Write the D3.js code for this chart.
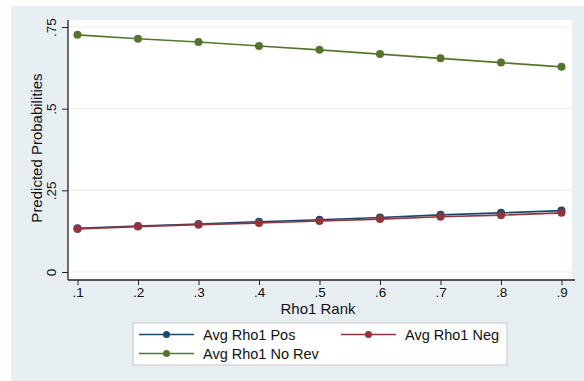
<!DOCTYPE html>
<head>
	<script src="https://d3js.org/d3.v7.min.js"></script>
	<style>
		body { margin: 0; background: #fff; }
		text { font-family: "Liberation Sans", Arial, sans-serif; fill: #111; }
		.tick text { font-size: 13.5px; }
		.axis-title { font-size: 15px; }
		.legend text { font-size: 14.5px; }
	</style>
</head>
<body>
	<script>
		var ranks = [0.1, 0.2, 0.3, 0.4, 0.5, 0.6, 0.7, 0.8, 0.9];
		var rankLabels = [".1", ".2", ".3", ".4", ".5", ".6", ".7", ".8", ".9"];
		var yTicks = [0, 0.25, 0.5, 0.75];
		var yTickLabels = ["0", ".25", ".5", ".75"];
		var avgPos = [0.134, 0.141, 0.147, 0.154, 0.160, 0.167, 0.175, 0.181, 0.188];
		var avgNeg = [0.132, 0.139, 0.145, 0.150, 0.156, 0.162, 0.169, 0.174, 0.181];
		var avgNoRev = [0.726, 0.714, 0.704, 0.692, 0.680, 0.667, 0.654, 0.641, 0.628];
		var seriesNames = ["Avg Rho1 Pos", "Avg Rho1 Neg", "Avg Rho1 No Rev"];
		var seriesColors = ["#1a476f", "#90353b", "#55752f"];

		var width = 584, height = 381;
		var plot = { left: 68, right: 572, top: 20, bottom: 280 };

		var svg = d3.select("body").append("svg")
			.attr("width", width)
			.attr("height", height);

		// outer graph region
		svg.append("rect")
			.attr("x", 11).attr("y", 6)
			.attr("width", width - 11).attr("height", height - 6)
			.attr("fill", "#e8eff2");
		svg.append("rect")
			.attr("x", plot.left).attr("y", plot.top)
			.attr("width", plot.right - plot.left).attr("height", plot.bottom - plot.top)
			.attr("fill", "#fff");

		var x = d3.scaleLinear().domain([0.1, 0.9]).range([77.5, 561.5]);
		var y = d3.scaleLinear().domain([0, 0.75]).range([272, 27]);

		// gridlines
		svg.append("g").selectAll("line")
			.data(yTicks)
			.enter().append("line")
			.attr("x1", plot.left).attr("x2", plot.right)
			.attr("y1", d => y(d)).attr("y2", d => y(d))
			.attr("stroke", "#eaf0f2").attr("stroke-width", 1.2);

		var xAxis = d3.axisBottom(x)
			.tickValues(ranks)
			.tickFormat((d, i) => rankLabels[i])
			.tickSizeOuter(0).tickSize(5).tickPadding(2);
		var gx = svg.append("g")
			.attr("transform", "translate(0," + plot.bottom + ")")
			.call(xAxis);
		gx.select(".domain").attr("d", "M" + plot.left + ",0H" + (plot.right + 3)).attr("stroke", "#222").attr("stroke-width", 1.3);
		gx.selectAll(".tick line").attr("stroke", "#222");

		var yAxis = d3.axisLeft(y)
			.tickValues(yTicks)
			.tickFormat((d, i) => yTickLabels[i])
			.tickSizeOuter(0).tickSize(6).tickPadding(3);
		var gy = svg.append("g")
			.attr("transform", "translate(" + plot.left + ",0)")
			.call(yAxis);
		gy.select(".domain").attr("d", "M0," + plot.top + "V" + plot.bottom).attr("stroke", "#222").attr("stroke-width", 1.3);
		gy.selectAll(".tick line").attr("stroke", "#222");
		gy.selectAll(".tick text")
			.attr("x", null).attr("dy", null)
			.attr("text-anchor", "middle")
			.attr("transform", "translate(-12,0) rotate(-90)");

		// titles
		svg.append("text").attr("class", "axis-title")
			.attr("x", (plot.left + plot.right) / 2 - 2).attr("y", 314)
			.attr("text-anchor", "middle").text("Rho1 Rank");
		svg.append("text").attr("class", "axis-title")
			.attr("transform", "translate(42," + ((plot.top + plot.bottom) / 2 - 2) + ") rotate(-90)")
			.attr("text-anchor", "middle").text("Predicted Probabilities");

		// series
		var series = [avgPos, avgNeg, avgNoRev];
		var line = d3.line().x((d, i) => x(ranks[i])).y(d => y(d));
		series.forEach(function(vals, s) {
			svg.append("path")
				.attr("d", line(vals))
				.attr("fill", "none")
				.attr("stroke", seriesColors[s])
				.attr("stroke-width", 1.6);
			svg.append("g").selectAll("circle")
				.data(vals)
				.enter().append("circle")
				.attr("cx", (d, i) => x(ranks[i]))
				.attr("cy", d => y(d))
				.attr("r", 4)
				.attr("fill", seriesColors[s]);
		});

		// legend
		var legend = svg.append("g").attr("class", "legend");
		legend.append("rect")
			.attr("x", 133).attr("y", 323)
			.attr("width", 374).attr("height", 42)
			.attr("fill", "#fff").attr("stroke", "#c8c8c8").attr("stroke-width", 1);
		var legendPos = [[139, 334.5], [341, 334.5], [139, 353.5]];
		seriesNames.forEach(function(name, s) {
			var p = legendPos[s];
			legend.append("line")
				.attr("x1", p[0]).attr("x2", p[0] + 55)
				.attr("y1", p[1]).attr("y2", p[1])
				.attr("stroke", seriesColors[s]).attr("stroke-width", 1.4);
			legend.append("circle")
				.attr("cx", p[0] + 27.5).attr("cy", p[1]).attr("r", 3.5)
				.attr("fill", seriesColors[s]);
			legend.append("text")
				.attr("x", p[0] + 64).attr("y", p[1] + 5)
				.text(name);
		});
	</script>
</body>
</html>
